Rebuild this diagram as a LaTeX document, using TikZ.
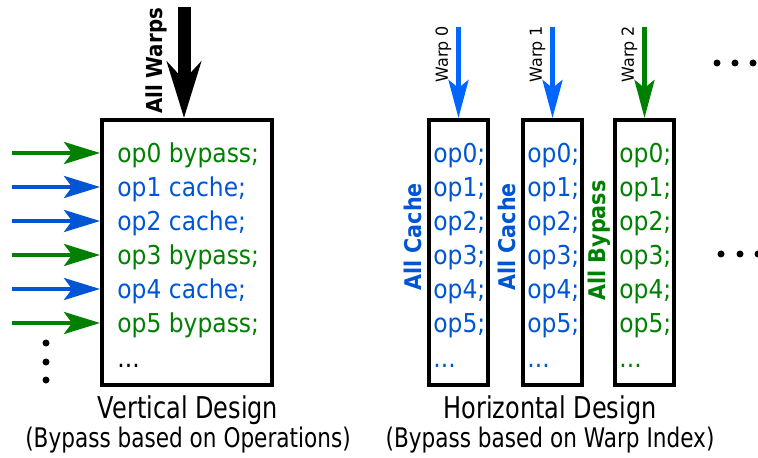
\documentclass[tikz,border=0pt]{standalone}
\usepackage{fontspec}
\setmainfont{DejaVu Sans}[FakeStretch=0.9]
\newfontfamily\titlefont{DejaVu Sans}[FakeStretch=0.8]
\newfontfamily\warpfont{DejaVu Sans}[FakeStretch=0.96]
\usetikzlibrary{arrows.meta, positioning}
\definecolor{opblue}{RGB}{0, 85, 212}
\definecolor{warpblue}{RGB}{0, 102, 255}
\definecolor{opgreen}{RGB}{0, 128, 0}

\begin{document}
\begin{tikzpicture}[
    x=0.5pt, y=-0.5pt,
    every node/.style={inner sep=0pt},
    codebox/.style={
        rectangle,
        draw=black,
        line width=2pt,
        minimum height=132.5pt
    },
    optext/.style={
        anchor=base west,
        font=\fontsize{13}{15}\selectfont
    },
    tagtext/.style={
        rotate=90,
        anchor=base,
        font=\fontsize{11.5}{13}\selectfont\bfseries
    },
    warptext/.style={
        rotate=90,
        anchor=south,
        inner sep=2.5pt,
        text=black,
        font=\warpfont\fontsize{8.3}{9}\selectfont
    },
    title/.style={anchor=base, font=\titlefont\fontsize{15}{18}\selectfont},
    subtitle/.style={anchor=base, font=\titlefont\fontsize{13.5}{16}\selectfont},
    feedarrow/.style={
        line width=2pt,
        -{Stealth[length=18pt, width=11pt, inset=4pt]}
    },
    warparrow/.style={
        line width=2.2pt,
        -{Stealth[length=19pt, width=10pt, inset=4pt]}
    },
    bigarrow/.style={
        line width=6.5pt,
        -{Stealth[length=28pt, width=17pt, inset=9pt]}
    },
    dot/.style={circle, fill=black, minimum size=3.5pt}
]
\useasboundingbox (0,0) rectangle (758,458);

% ==================== LEFT: VERTICAL DESIGN ====================
\node (vbox) [codebox, minimum width=85pt] at (187,252.5) {};

\foreach \i/\kind/\col in {0/bypass/opgreen, 1/cache/opblue, 2/cache/opblue,
                           3/bypass/opgreen, 4/cache/opblue, 5/bypass/opgreen} {
    \node (vop\i) [optext, text=\col] at (117, 163+34*\i) {op\i\ \kind;};
    \coordinate (feed\i) at (12, 153+34*\i);
    \draw [feedarrow, draw=\col] (feed\i) -- (feed\i -| vbox.west);
}
\node (vmore) [optext] at (117,367) {...};

% all warps come in from the top
\coordinate (warpsrc) at (184,7);
\draw [bigarrow] (warpsrc) -- (warpsrc |- vbox.north);
\node (allwarps) [tagtext, font=\fontsize{11}{13}\selectfont\bfseries] at (162,61) {All Warps};

\foreach \y in {343,362,380}
    \node (vdot\y) [dot] at (46,\y) {};

\node (vtitle) [title] at (188,418) {Vertical Design};
\node (vsub) [subtitle] at (188,447) {(Bypass based on Operations)};

% ==================== RIGHT: HORIZONTAL DESIGN ====================
\foreach \b/\x/\col/\arr in {0/458.5/opblue/warpblue, 1/552.5/opblue/warpblue,
                             2/644.5/opgreen/opgreen} {
    \node (hbox\b) [codebox, minimum width=29.5pt] at (\x,252.5) {};
    \foreach \i in {0,...,5}
        \node (h\b op\i) [optext, text=\col] at (\x-25.5, 163+34*\i) {op\i;};
    \node (h\b more) [optext, text=\col] at (\x-25.5, 367) {...};
    \coordinate (warp\b) at (\x,27);
    \draw [warparrow, draw=\arr] (warp\b) --
        node[warptext, pos=0.3] {Warp \b} (hbox\b.north);
}

\node (tag0) [tagtext, text=opblue] at (421,237) {All Cache};
\node (tag1) [tagtext, text=opblue] at (515,237) {All Cache};
\node (tag2) [tagtext, text=opgreen] at (605,240.5) {All Bypass};

\foreach \x in {717,735,753}
    \node (topdot\x) [dot] at (\x,63) {};
\foreach \x in {721,740,758}
    \node (middot\x) [dot] at (\x,254) {};

\node (htitle) [title] at (550,418) {Horizontal Design};
\node (hsub) [subtitle] at (550,447) {(Bypass based on Warp Index)};

\end{tikzpicture}
\end{document}
